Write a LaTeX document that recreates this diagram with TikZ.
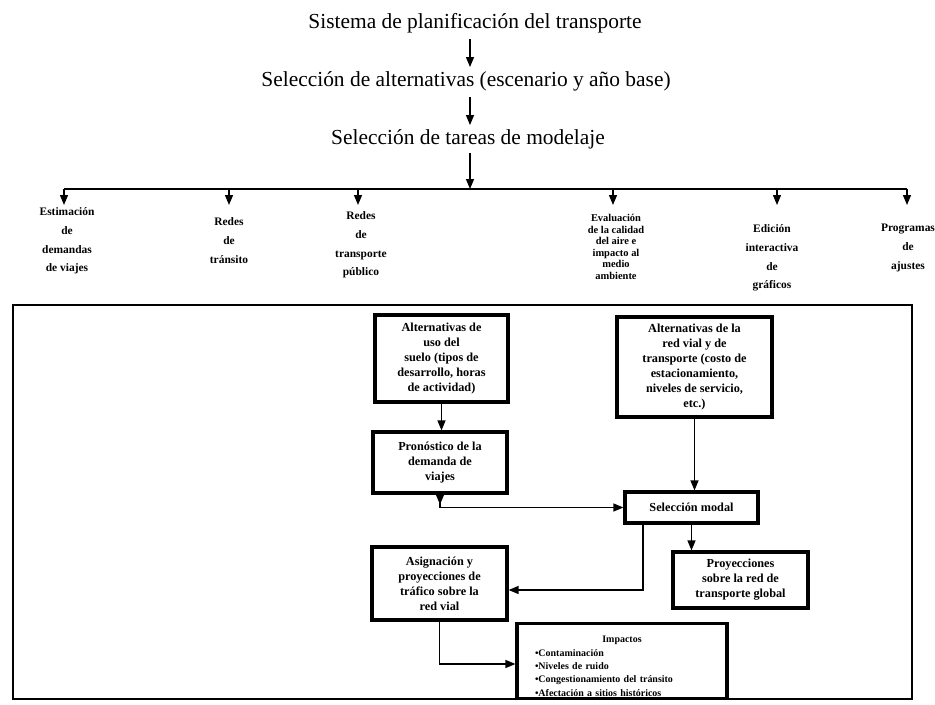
\documentclass[tikz,border=0pt]{standalone}
\usepackage{fontspec}
\setmainfont{Liberation Serif}
\usetikzlibrary{arrows.meta}
\begin{document}
\begin{tikzpicture}[x=1bp,y=-1bp,
  conn/.style={line width=1.3bp},
  tip/.style={-{Triangle[length=10bp,width=8bp]}},
  arr/.style={conn,tip},
  headline/.style={font=\fontsize{21.5}{24}\selectfont, inner sep=0pt},
  task/.style={font=\bfseries\fontsize{11.5}{19}\selectfont, align=center, anchor=north, inner sep=0pt},
  stepbox/.style={draw, line width=3.2bp, align=center, inner sep=2bp,
    font=\bfseries\fontsize{12.3}{15}\selectfont},
]
\useasboundingbox (0,0) rectangle (935,705);
\fill[white] (0,0) rectangle (935,705);

% headline chain
\coordinate (spine) at (470,0);
\node[headline] (t1) at (475,23) {Sistema de planificación del transporte};
\node[headline] (t2) at (466,81) {Selección de alternativas (escenario y año base)};
\node[headline] (t3) at (468,139) {Selección de tareas de modelaje};
\draw[arr, shorten <=6bp, shorten >=4bp] (t1.south -| spine) -- (t2.north -| spine);
\draw[arr, shorten <=6bp, shorten >=4bp] (t2.south -| spine) -- (t3.north -| spine);

% distribution bus to the modelling tasks
\coordinate (busL) at (64,189);
\coordinate (busR) at (907,189);
\draw[conn] (busL) -- (busR);
\draw[arr, shorten <=4bp] (t3.south -| spine) -- (spine |- busL);

\coordinate (p1) at (64,205);
\coordinate (p2) at (229,205);
\coordinate (p3) at (358,205);
\coordinate (p4) at (613,205);
\coordinate (p5) at (777,205);
\coordinate (p6) at (907,205);
\foreach \i in {1,...,6} \draw[arr] (p\i |- busL) -- (p\i);

\node[task] (k1) at (67,207) {Estimación\\de\\demandas\\de viajes};
\node[task] (k2) at (229,217) {Redes\\de\\tránsito};
\node[task] (k3) at (361,211) {Redes\\de\\transporte\\público};
\node[task, font=\bfseries\fontsize{10.5}{11.6}\selectfont] (k4) at (616,214)
  {Evaluación\\de la calidad\\del aire e\\impacto al\\medio\\ambiente};
\node[task] (k5) at (772,224) {Edición\\interactiva\\de\\gráficos};
\node[task] (k6) at (908,224) {Programas\\de\\ajustes};

% modelling process frame
\node[draw, line width=2bp, minimum width=899bp, minimum height=394bp, inner sep=0pt]
  (frame) at (462.5,502) {};

\node[stepbox, minimum width=133bp, minimum height=87bp] (A) at (441.5,358.5)
  {Alternativas de\\uso del\\suelo (tipos de\\desarrollo, horas\\de actividad)};
\node[stepbox, minimum width=155bp, minimum height=100bp] (B) at (694.5,367)
  {Alternativas de la\\red vial y de\\transporte (costo de\\estacionamiento,\\niveles de servicio,\\etc.)};
\node[stepbox, minimum width=134bp, minimum height=61bp] (C) at (440,462.5)
  {Pronóstico de la\\demanda de\\viajes};
\node[stepbox, minimum width=133bp, minimum height=31bp] (D) at (691.5,507.5)
  {Selección modal};
\node[stepbox, minimum width=135bp, minimum height=73bp] (E) at (439.5,583.5)
  {Asignación y\\proyecciones de\\tráfico sobre la\\red vial};
\node[stepbox, minimum width=135bp, minimum height=56bp] (F) at (740.5,580)
  {Proyecciones\\sobre la red de\\transporte global};
\node[stepbox, minimum width=210bp, minimum height=74bp, text width=174bp, align=left,
  font=\bfseries\fontsize{10}{13.5}\selectfont] (G) at (622,661)
  {\centering\rule{0pt}{17bp}Impactos\par\raggedright
   •Contaminación\\•Niveles de ruido\\•Congestionamiento del tránsito\\•Afectación a sitios históricos};

\draw[arr] (A.south) -- (A.south |- C.north);
\draw[arr] (B.south) -- (B.south |- D.north);
\draw[conn, {Triangle[length=10bp,width=8bp,reversed]}-{Triangle[length=10bp,width=8bp]}]
  (C.south) |- (D.west);
\draw[arr] ([xshift=-48.5bp]D.south) |- ([yshift=-6.5bp]E.east);
\draw[arr] (D.south) -- (D.south |- F.north);
\draw[arr] (E.south) |- ([yshift=-3bp]G.west);
\end{tikzpicture}
\end{document}
